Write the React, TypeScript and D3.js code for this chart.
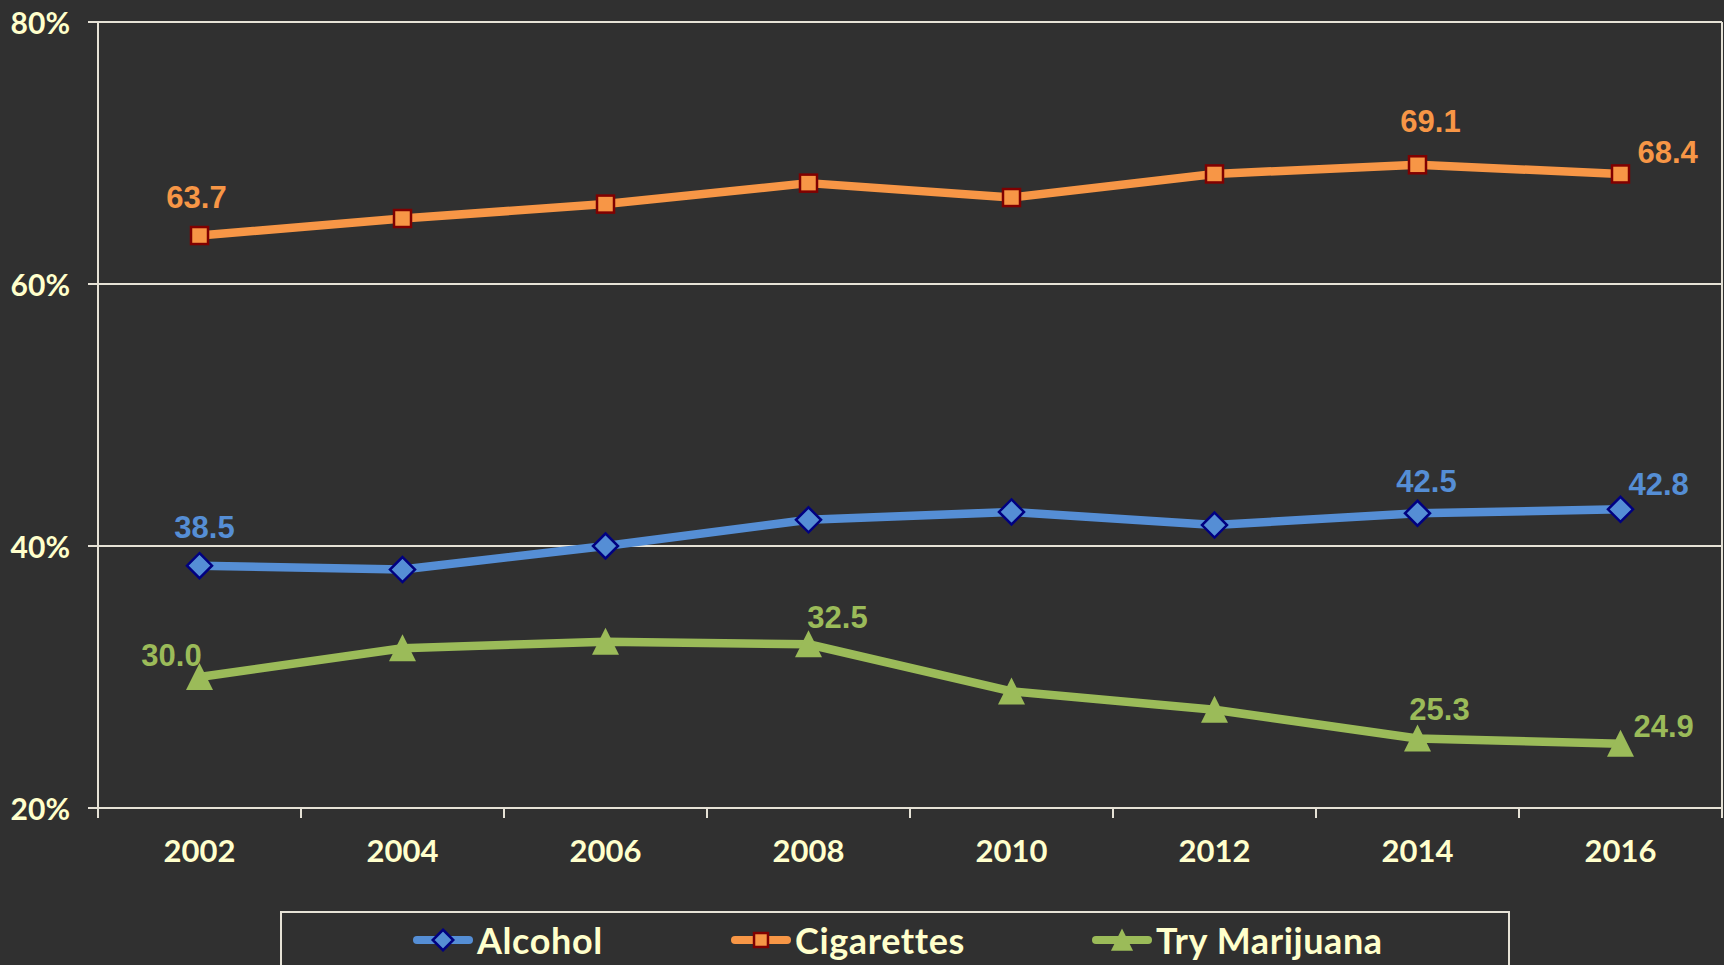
import React from "react";
import * as d3 from "d3";

const years = ["2002", "2004", "2006", "2008", "2010", "2012", "2014", "2016"];
const alcohol = [38.5, 38.2, 40.0, 42.0, 42.6, 41.6, 42.5, 42.8];
const cigarettes = [63.7, 65.0, 66.1, 67.7, 66.6, 68.4, 69.1, 68.4];
const marijuana = [30.0, 32.2, 32.7, 32.5, 28.9, 27.5, 25.3, 24.9];
const yTicks = [20, 40, 60, 80];
const seriesNames = ["Alcohol", "Cigarettes", "Try Marijuana"];

// Data labels shown in the chart (series index, point index) with placement offsets
const labelSpecs = [
  { s: 1, i: 0, dx: -3, dy: -28, anchor: "middle" },
  { s: 1, i: 6, dx: 13, dy: -33, anchor: "middle" },
  { s: 1, i: 7, dx: 17, dy: -11, anchor: "start" },
  { s: 0, i: 0, dx: 5, dy: -28, anchor: "middle" },
  { s: 0, i: 6, dx: 9, dy: -21, anchor: "middle" },
  { s: 0, i: 7, dx: 8, dy: -14, anchor: "start" },
  { s: 2, i: 0, dx: -28, dy: -11, anchor: "middle" },
  { s: 2, i: 3, dx: 29, dy: -16, anchor: "middle" },
  { s: 2, i: 6, dx: 22, dy: -19, anchor: "middle" },
  { s: 2, i: 7, dx: 13, dy: -7, anchor: "start" },
];

const W = 1724;
const H = 965;
const BG = "#303030";
const CREAM = "#FFFFCC";
const GRID = "#E6E2D6";
const COLORS = ["#558ED5", "#F79646", "#9BBB59"];
const STROKES = ["#000080", "#800000", "none"];
const AXIS_FONT = "'Lato', 'Open Sans', sans-serif";
const LABEL_FONT = "'Liberation Sans', Arial, sans-serif";

const left = 98;
const right = 1722;
const top = 22;
const bottom = 808;

function Marker({ type, x, y, color, stroke, scale = 1 }: any) {
  if (type === 0) {
    const r = 12.5 * scale;
    return (
      <path
        d={`M${x},${y - r}L${x + r},${y}L${x},${y + r}L${x - r},${y}Z`}
        fill={color}
        stroke={stroke}
        strokeWidth={2.5}
      />
    );
  }
  if (type === 1) {
    const s = 17 * scale;
    return (
      <rect x={x - s / 2} y={y - s / 2} width={s} height={s} fill={color} stroke={stroke} strokeWidth={2.5} />
    );
  }
  const hw = 13.5 * scale;
  return (
    <path
      d={`M${x},${y - 14 * scale}L${x + hw},${y + 13 * scale}L${x - hw},${y + 13 * scale}Z`}
      fill={color}
    />
  );
}

export default function App() {
  const x = d3.scalePoint<string>().domain(years).range([left, right]).padding(0.5);
  const band = (right - left) / years.length;
  const y = d3.scaleLinear().domain([20, 80]).range([bottom, top]);
  const series = [alcohol, cigarettes, marijuana];
  const line = d3
    .line<number>()
    .x((_, i) => x(years[i]) as number)
    .y((d) => y(d));

  const legendX = [413, 731, 1092];

  return (
    <svg
      width={W}
      height={H}
      style={{ position: "fixed", left: 0, top: 0, display: "block" }}
    >
      <rect x={0} y={0} width={W} height={H} fill={BG} />

      {/* gridlines + y ticks */}
      {yTicks.map((t) => (
        <g key={t}>
          <line x1={88} x2={right} y1={y(t)} y2={y(t)} stroke={GRID} strokeWidth={2} />
          <text
            x={70}
            y={y(t)}
            textAnchor="end"
            dominantBaseline="central"
            fill={CREAM}
            fontFamily={AXIS_FONT}
            fontWeight={700}
            fontSize={30}
          >
            {t}%
          </text>
        </g>
      ))}

      {/* axes */}
      <line x1={left} x2={left} y1={top} y2={bottom} stroke={GRID} strokeWidth={2} />
      <line x1={right} x2={right} y1={top} y2={bottom} stroke={GRID} strokeWidth={2} />
      {d3.range(years.length + 1).map((k) => (
        <line
          key={k}
          x1={left + k * band}
          x2={left + k * band}
          y1={bottom}
          y2={bottom + 10}
          stroke={GRID}
          strokeWidth={2}
        />
      ))}
      {years.map((yr) => (
        <text
          key={yr}
          x={x(yr)}
          y={862}
          textAnchor="middle"
          fill={CREAM}
          fontFamily={AXIS_FONT}
          fontWeight={700}
          fontSize={31}
        >
          {yr}
        </text>
      ))}

      {/* lines */}
      {series.map((vals, s) => (
        <path key={s} d={line(vals) || ""} fill="none" stroke={COLORS[s]} strokeWidth={8.5} strokeLinejoin="round" />
      ))}
      {series.map((vals, s) =>
        vals.map((v, i) => (
          <Marker key={`${s}-${i}`} type={s} x={x(years[i])} y={y(v)} color={COLORS[s]} stroke={STROKES[s]} />
        ))
      )}

      {/* data labels */}
      {labelSpecs.map((l, k) => {
        const v = series[l.s][l.i];
        return (
          <text
            key={k}
            x={(x(years[l.i]) as number) + l.dx}
            y={y(v) + l.dy}
            textAnchor={l.anchor as any}
            fill={COLORS[l.s]}
            fontFamily={LABEL_FONT}
            fontWeight={700}
            fontSize={31}
          >
            {v.toFixed(1)}
          </text>
        );
      })}

      {/* legend */}
      <rect x={281} y={912} width={1228} height={80} fill="none" stroke={GRID} strokeWidth={2} />
      {seriesNames.map((name, s) => {
        const lx = legendX[s];
        return (
          <g key={name}>
            <line x1={lx + 4} x2={lx + 56} y1={940} y2={940} stroke={COLORS[s]} strokeWidth={8} strokeLinecap="round" />
            <Marker type={s} x={lx + 30} y={940} color={COLORS[s]} stroke={STROKES[s]} scale={0.82} />
            <text
              x={lx + 64}
              y={954}
              fill={CREAM}
              fontFamily={AXIS_FONT}
              fontWeight={700}
              fontSize={36}
              letterSpacing={0.6}
            >
              {name}
            </text>
          </g>
        );
      })}
    </svg>
  );
}
